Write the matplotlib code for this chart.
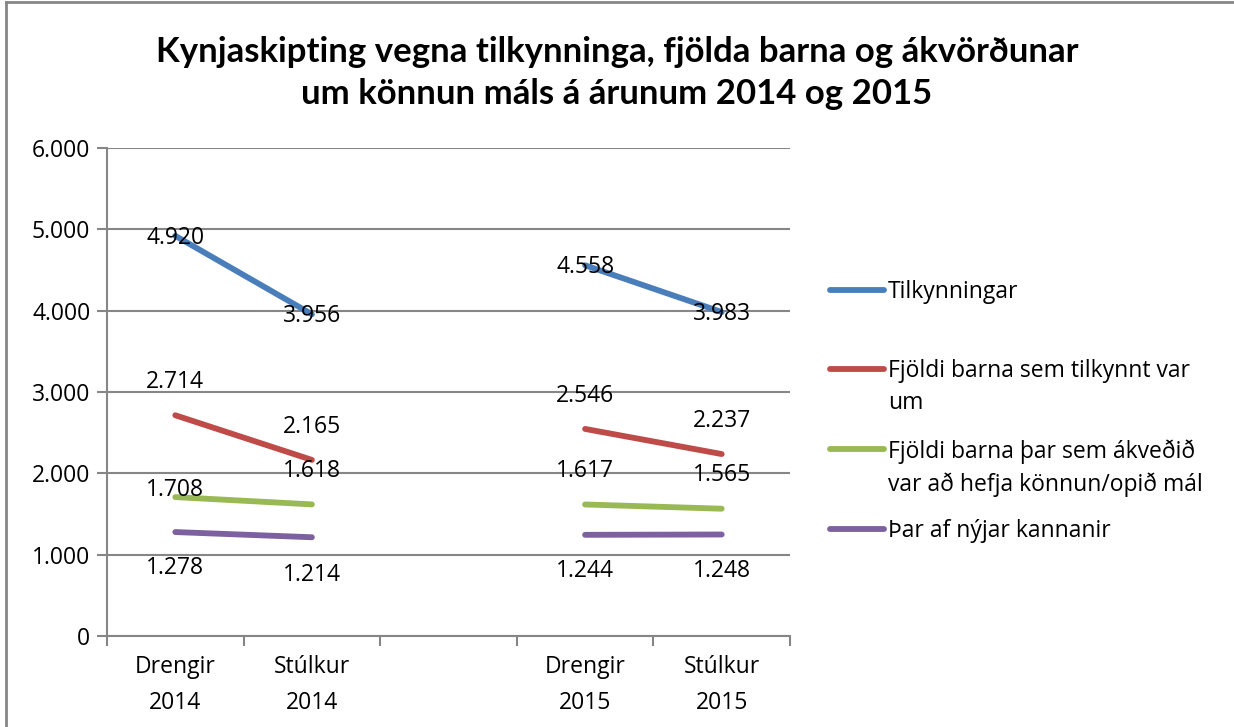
import numpy as np
import matplotlib
matplotlib.use("Agg")
import matplotlib.pyplot as plt
from matplotlib.lines import Line2D

plt.rcParams['font.family'] = ['Lato', 'DejaVu Sans']

# categories (middle slot is left empty in the original chart)
categories = ["Drengir\n2014", "Stúlkur\n2014", "", "Drengir\n2015", "Stúlkur\n2015"]

series_names = [
    "Tilkynningar",
    "Fjöldi barna sem tilkynnt var\num",
    "Fjöldi barna þar sem ákveðið\nvar að hefja könnun/opið mál",
    "Þar af nýjar kannanir",
]
tilkynningar = [4920, 3956, None, 4558, 3983]
fjoldi_barna = [2714, 2165, None, 2546, 2237]
konnun = [1708, 1618, None, 1617, 1565]
nyjar = [1278, 1214, None, 1244, 1248]

colors = ["#4a7ebb", "#be4b48", "#98b954", "#7d60a0"]
# label offsets (points) per series / point
label_offsets = [
    [-1.5, -1.5, 0, -1.5, -1.5],
    [24, 24, 0, 24, 24],
    [5, 24, 0, 24, 24],
    [-26, -27, 0, -26, -26],
]

title = "Kynjaskipting vegna tilkynninga, fjölda barna og ákvörðunar\num könnun máls á árunum 2014 og 2015"

body_font = ['Open Sans', 'DejaVu Sans']


def fmt(v):
    return "{:,}".format(int(v)).replace(",", ".")


fig = plt.figure(figsize=(12.34, 7.27), dpi=100)
ax = fig.add_axes([107/1234, 1-636/727, (790-107)/1234, (636-148)/727])

x = np.arange(len(categories))
all_series = [tilkynningar, fjoldi_barna, konnun, nyjar]
for vals, c, offs in zip(all_series, colors, label_offsets):
    xs = [xi for xi, v in zip(x, vals) if v is not None]
    ys = [v for v in vals if v is not None]
    # draw the two segments (2014 and 2015) separately
    ax.plot(xs[:2], ys[:2], color=c, lw=4.2, solid_capstyle='round')
    ax.plot(xs[2:], ys[2:], color=c, lw=4.2, solid_capstyle='round')
    for xi, v in zip(x, vals):
        if v is None:
            continue
        ax.annotate(fmt(v), (xi, v), xytext=(0, offs[xi]), textcoords='offset points',
                    ha='center', va='center', fontsize=16.5, family=body_font,
                    color='black')

ax.set_xlim(-0.5, len(categories) - 0.5)
ax.set_ylim(0, 6000)
ax.set_yticks(np.arange(0, 6001, 1000))
ax.set_yticklabels([fmt(v) for v in np.arange(0, 6001, 1000)], fontsize=16.5,
                   family=body_font)
ax.yaxis.grid(True, color='#868686', lw=1.5)
ax.set_axisbelow(True)
ax.tick_params(axis='y', length=7, width=1.5, color='#868686', pad=5)

ax.set_xticks(x)
ax.set_xticklabels(categories, fontsize=16.5, family=body_font, linespacing=1.65)
ax.tick_params(axis='x', length=0, pad=14)
ax.set_xticks(np.arange(-0.5, len(categories) + 0.5, 1), minor=True)
ax.tick_params(axis='x', which='minor', length=7, width=1.5, color='#868686')

for s in ['top', 'right']:
    ax.spines[s].set_visible(False)
for s in ['left', 'bottom']:
    ax.spines[s].set_color('#868686')
    ax.spines[s].set_linewidth(1.5)

fig.text(617/1234, 1-73/727, title, ha='center', va='center', fontsize=25,
         fontweight='bold', linespacing=1.4)

# legend drawn by hand so the handle sits beside the first text line
leg_y = [290, 369, 449, 529]
for name, c, yy in zip(series_names, colors, leg_y):
    fy = 1 - yy/727
    fig.add_artist(Line2D([830/1234, 884/1234], [fy, fy], color=c, lw=4.2,
                          solid_capstyle='round', transform=fig.transFigure))
    fig.text(888/1234, fy + 10/727, name, ha='left', va='top', fontsize=16.5,
             family=body_font, linespacing=1.45)

# outer chart border
fig.add_artist(Line2D([6/1234, 6/1234], [0, 1-2/727], color='#868686', lw=2,
                      transform=fig.transFigure))
fig.add_artist(Line2D([6/1234, 1], [1-2/727, 1-2/727], color='#868686', lw=2,
                      transform=fig.transFigure))

fig.savefig("out.png", dpi=100)
